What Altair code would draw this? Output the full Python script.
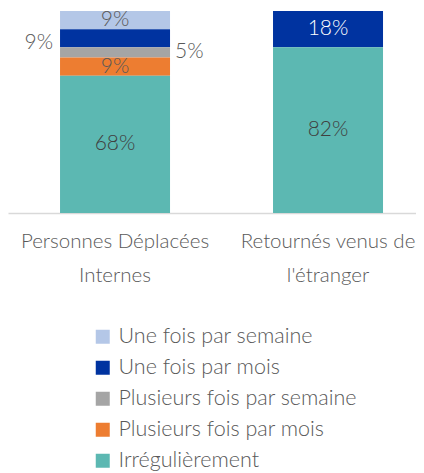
import altair as alt
import pandas as pd

categories = ["Personnes Déplacées\nInternes", "Retournés venus de\nl'étranger"]
series = ["Une fois par semaine", "Une fois par mois", "Plusieurs fois par semaine",
          "Plusieurs fois par mois", "Irrégulièrement"]
values_pdi = [9, 9, 5, 9, 68]
values_ret = [0, 18, 0, 0, 82]
colors = ["#B4C7E7", "#0033A0", "#A5A5A5", "#ED7D31", "#5CB8B2"]

rows = []
for cat, vals in zip(categories, [values_pdi, values_ret]):
    for i, (s, v) in enumerate(zip(series, vals)):
        if v > 0:
            rows.append({"cat": cat, "series": s, "idx": i, "value": v})
df = pd.DataFrame(rows)

FONT = "Lato"
TXT = "#595959"

base = alt.Chart(df).transform_stack(
    stack="value", groupby=["cat"], as_=["y0", "y1"],
    sort=[alt.SortField("idx", order="descending")]
).transform_calculate(
    mid="(datum.y0 + datum.y1) / 2",
    label="datum.value + '%'"
)

xenc = alt.X("cat:N", sort=categories, title=None,
             scale=alt.Scale(paddingInner=0.4836, paddingOuter=0.1996, align=0.612),
             axis=alt.Axis(labelExpr="split(datum.label, '\\n')", labelAngle=0,
                           labelFont=FONT, labelFontSize=20.5, labelColor=TXT,
                           labelFontWeight=300, labelLineHeight=34, labelLimit=400,
                           labelPadding=18, ticks=False, domainColor="#D9D9D9",
                           domainWidth=1.5))
yscale = alt.Scale(domain=[0, 100], nice=False)

bars = base.mark_bar(size=110).encode(
    x=xenc,
    y=alt.Y("y0:Q", scale=yscale, axis=None),
    y2="y1:Q",
    color=alt.Color("series:N", scale=alt.Scale(domain=series, range=colors),
                    legend=alt.Legend(title=None, orient="none", legendX=84, legendY=315,
                                      direction="vertical", symbolType="square",
                                      symbolSize=196, symbolStrokeWidth=0,
                                      labelFont=FONT, labelFontSize=21.5, labelColor=TXT,
                                      labelFontWeight=300, rowPadding=8,
                                      labelOffset=5, labelLimit=400)),
)

is_outside = "datum.cat == '" + categories[0].replace("\n", "\\n") + "' && (datum.series == 'Une fois par mois' || datum.series == 'Plusieurs fois par semaine')"

txt_common = dict(font=FONT, fontSize=21, fontWeight=300)

inside = base.transform_filter("!(" + is_outside + ")").transform_calculate(
    tcol="datum.series == 'Une fois par mois' ? 'white' : (datum.series == 'Irrégulièrement' ? '#404040' : '" + TXT + "')"
).mark_text(baseline="middle", **txt_common).encode(
    x=alt.X("cat:N", sort=categories),
    y=alt.Y("mid:Q", scale=yscale),
    text="label:N",
    color=alt.Color("tcol:N", scale=None),
)

left = base.transform_filter(is_outside + " && datum.series == 'Une fois par mois'").mark_text(
    align="right", baseline="middle", dx=-62, dy=5, color=TXT, **txt_common).encode(
    x=alt.X("cat:N", sort=categories),
    y=alt.Y("mid:Q", scale=yscale),
    text="label:N",
)

right = base.transform_filter(is_outside + " && datum.series == 'Plusieurs fois par semaine'").mark_text(
    align="left", baseline="middle", dx=60, color=TXT, **txt_common).encode(
    x=alt.X("cat:N", sort=categories),
    y=alt.Y("mid:Q", scale=yscale),
    text="label:N",
)

chart = alt.layer(bars, inside, left, right).resolve_scale(color="independent").properties(
    width=408, height=202,
    padding={"top": 1, "left": 0, "right": 0, "bottom": 0}
).configure_view(stroke=None)

chart.save("out.html", embed_options={"renderer": "svg", "actions": False})
